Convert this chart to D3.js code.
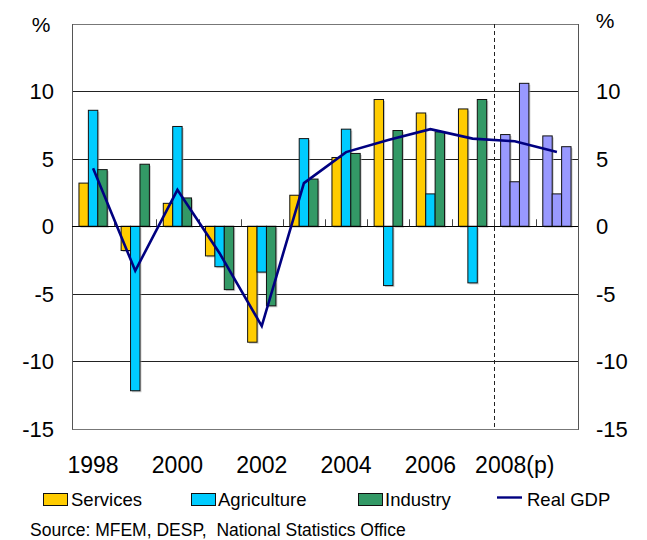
<!DOCTYPE html>
<html>
<head>
<meta charset="utf-8">
<script src="https://cdn.jsdelivr.net/npm/d3@7"></script>
<style>
  html, body { margin: 0; padding: 0; background: #fff; }
  svg { display: block; font-family: "Liberation Sans", Arial, sans-serif; }
</style>
</head>
<body>
<svg id="chart" width="647" height="540"></svg>
<script>
// Growth by sector, % change
const years = ["1998","1999","2000","2001","2002","2003","2004","2005","2006","2007","2008","2009"];
const yearLabels = ["1998","","2000","","2002","","2004","","2006","","2008(p)",""];
const projected = [false,false,false,false,false,false,false,false,false,false,true,true];
const services    = [3.2, -1.8, 1.7, -2.2, -8.6, 2.3, 5.1, 9.4, 8.4, 8.7, 6.8, 6.7];
const agriculture = [8.6, -12.2, 7.4, -3.0, -3.4, 6.5, 7.2, -4.4, 2.4, -4.2, 3.3, 2.4];
const industry    = [4.2, 4.6, 2.1, -4.7, -5.9, 3.5, 5.4, 7.1, 7.0, 9.4, 10.6, 5.9];
const realGdp     = [4.3, -3.3, 2.7, -2.0, -7.4, 3.2, 5.5, 6.4, 7.2, 6.5, 6.3, 5.5];
const yTicks = [-15, -10, -5, 0, 5, 10];
const seriesNames = ["Services", "Agriculture", "Industry"];
const seriesColors = ["#FFCC00", "#00CCFF", "#339966"];
const projectedColor = "#9999FF";
const gdpColor = "#000080";

const svg = d3.select("#chart");
const plot = { left: 72, right: 578, top: 24, bottom: 428.5 };

const x = d3.scaleBand().domain(years).range([plot.left, plot.right]).padding(0);
const groupW = x.bandwidth() * 0.67;
const xs = d3.scaleBand().domain(seriesNames)
  .range([(x.bandwidth() - groupW) / 2, (x.bandwidth() + groupW) / 2]).padding(0);
const y = d3.scaleLinear().domain([-15, 15]).range([plot.bottom, plot.top]);

// gridlines
svg.append("g").selectAll("line").data([-10, -5, 5, 10]).join("line")
  .attr("x1", plot.left).attr("x2", plot.right)
  .attr("y1", d => Math.round(y(d)) + 0.5).attr("y2", d => Math.round(y(d)) + 0.5)
  .attr("stroke", "#222").attr("stroke-width", 1);

// plot frame
svg.append("rect")
  .attr("x", plot.left + 0.5).attr("y", plot.top + 0.5)
  .attr("width", plot.right - plot.left).attr("height", Math.round(plot.bottom) - plot.top)
  .attr("fill", "none").attr("stroke", "#777").attr("stroke-width", 1);
svg.append("line").attr("x1", plot.left + 0.5).attr("x2", plot.left + 0.5)
  .attr("y1", plot.top).attr("y2", Math.round(plot.bottom) + 0.5).attr("stroke", "#555");
svg.append("line").attr("x1", plot.right + 0.5).attr("x2", plot.right + 0.5)
  .attr("y1", plot.top).attr("y2", Math.round(plot.bottom) + 0.5).attr("stroke", "#555");

// projection divider
svg.append("line")
  .attr("x1", Math.round(x("2008")) + 0.5).attr("x2", Math.round(x("2008")) + 0.5)
  .attr("y1", plot.top).attr("y2", plot.bottom)
  .attr("stroke", "#222").attr("stroke-dasharray", "4,3");

// bars
const rows = [];
years.forEach((yr, i) => {
  [services, agriculture, industry].forEach((arr, k) => {
    rows.push({ year: yr, series: seriesNames[k], value: arr[i],
                color: projected[i] ? projectedColor : seriesColors[k] });
  });
});
const bars = svg.append("g");
// soft drop shadow behind each bar
bars.selectAll("rect.shadow").data(rows).join("rect").attr("class", "shadow")
  .attr("x", d => x(d.year) + xs(d.series) + 1.5)
  .attr("y", d => Math.min(y(d.value), y(0)) + 1.5)
  .attr("width", xs.bandwidth())
  .attr("height", d => Math.abs(y(d.value) - y(0)))
  .attr("fill", "#a8a8a8").attr("opacity", 0.6);
bars.selectAll("rect.bar").data(rows).join("rect").attr("class", "bar")
  .attr("x", d => x(d.year) + xs(d.series))
  .attr("y", d => Math.min(y(d.value), y(0)))
  .attr("width", xs.bandwidth())
  .attr("height", d => Math.abs(y(d.value) - y(0)))
  .attr("fill", d => d.color).attr("stroke", "#111").attr("stroke-width", 1);

// zero line with category ticks
svg.append("line").attr("x1", plot.left).attr("x2", plot.right)
  .attr("y1", Math.round(y(0)) + 0.5).attr("y2", Math.round(y(0)) + 0.5)
  .attr("stroke", "#000").attr("stroke-width", 1.2);
svg.append("g").selectAll("line").data(years.slice(1)).join("line")
  .attr("x1", d => Math.round(x(d)) + 0.5).attr("x2", d => Math.round(x(d)) + 0.5)
  .attr("y1", y(0) - 7).attr("y2", y(0))
  .attr("stroke", "#444").attr("stroke-width", 1);

// real GDP line
const line = d3.line().x((d, i) => x(years[i]) + x.bandwidth() / 2).y(d => y(d));
svg.append("path").datum(realGdp).attr("d", line)
  .attr("fill", "none").attr("stroke", gdpColor).attr("stroke-width", 2.6)
  .attr("stroke-linejoin", "miter");

// y axis labels (both sides)
svg.append("g").selectAll("text").data(yTicks).join("text")
  .attr("x", 54).attr("y", d => y(d) + 8)
  .attr("text-anchor", "end").attr("font-size", 22).text(d => d);
svg.append("g").selectAll("text").data(yTicks).join("text")
  .attr("x", 596).attr("y", d => y(d) + 8)
  .attr("text-anchor", "start").attr("font-size", 22).text(d => d);
svg.append("text").attr("x", 41).attr("y", 32).attr("text-anchor", "middle")
  .attr("font-size", 21).text("%");
svg.append("text").attr("x", 605).attr("y", 28).attr("text-anchor", "middle")
  .attr("font-size", 21).text("%");

// x axis labels
svg.append("g").selectAll("text").data(years.filter((d, i) => yearLabels[i])).join("text")
  .attr("x", d => x(d) + x.bandwidth() / 2).attr("y", 473)
  .attr("text-anchor", "middle").attr("font-size", 23)
  .text(d => yearLabels[years.indexOf(d)]);

// legend
const legendItems = [
  { name: "Services", color: seriesColors[0], bx: 43, tx: 71 },
  { name: "Agriculture", color: seriesColors[1], bx: 191, tx: 218 },
  { name: "Industry", color: seriesColors[2], bx: 358, tx: 385 }
];
const lg = svg.append("g");
lg.selectAll("rect").data(legendItems).join("rect")
  .attr("x", d => d.bx + 0.5).attr("y", 493.5).attr("width", 24).attr("height", 12)
  .attr("fill", d => d.color).attr("stroke", "#111");
lg.selectAll("text").data(legendItems).join("text")
  .attr("x", d => d.tx).attr("y", 506).attr("font-size", 18.5).text(d => d.name);
lg.append("line").attr("x1", 497).attr("x2", 522).attr("y1", 497.5).attr("y2", 497.5)
  .attr("stroke", gdpColor).attr("stroke-width", 2.4);
lg.append("text").attr("x", 527).attr("y", 506).attr("font-size", 18.5).text("Real GDP");

// source note
svg.append("text").attr("x", 30).attr("y", 536).attr("font-size", 17.5)
  .attr("xml:space", "preserve").style("white-space", "pre")
  .text("Source: MFEM, DESP,  National Statistics Office");
</script>
</body>
</html>
